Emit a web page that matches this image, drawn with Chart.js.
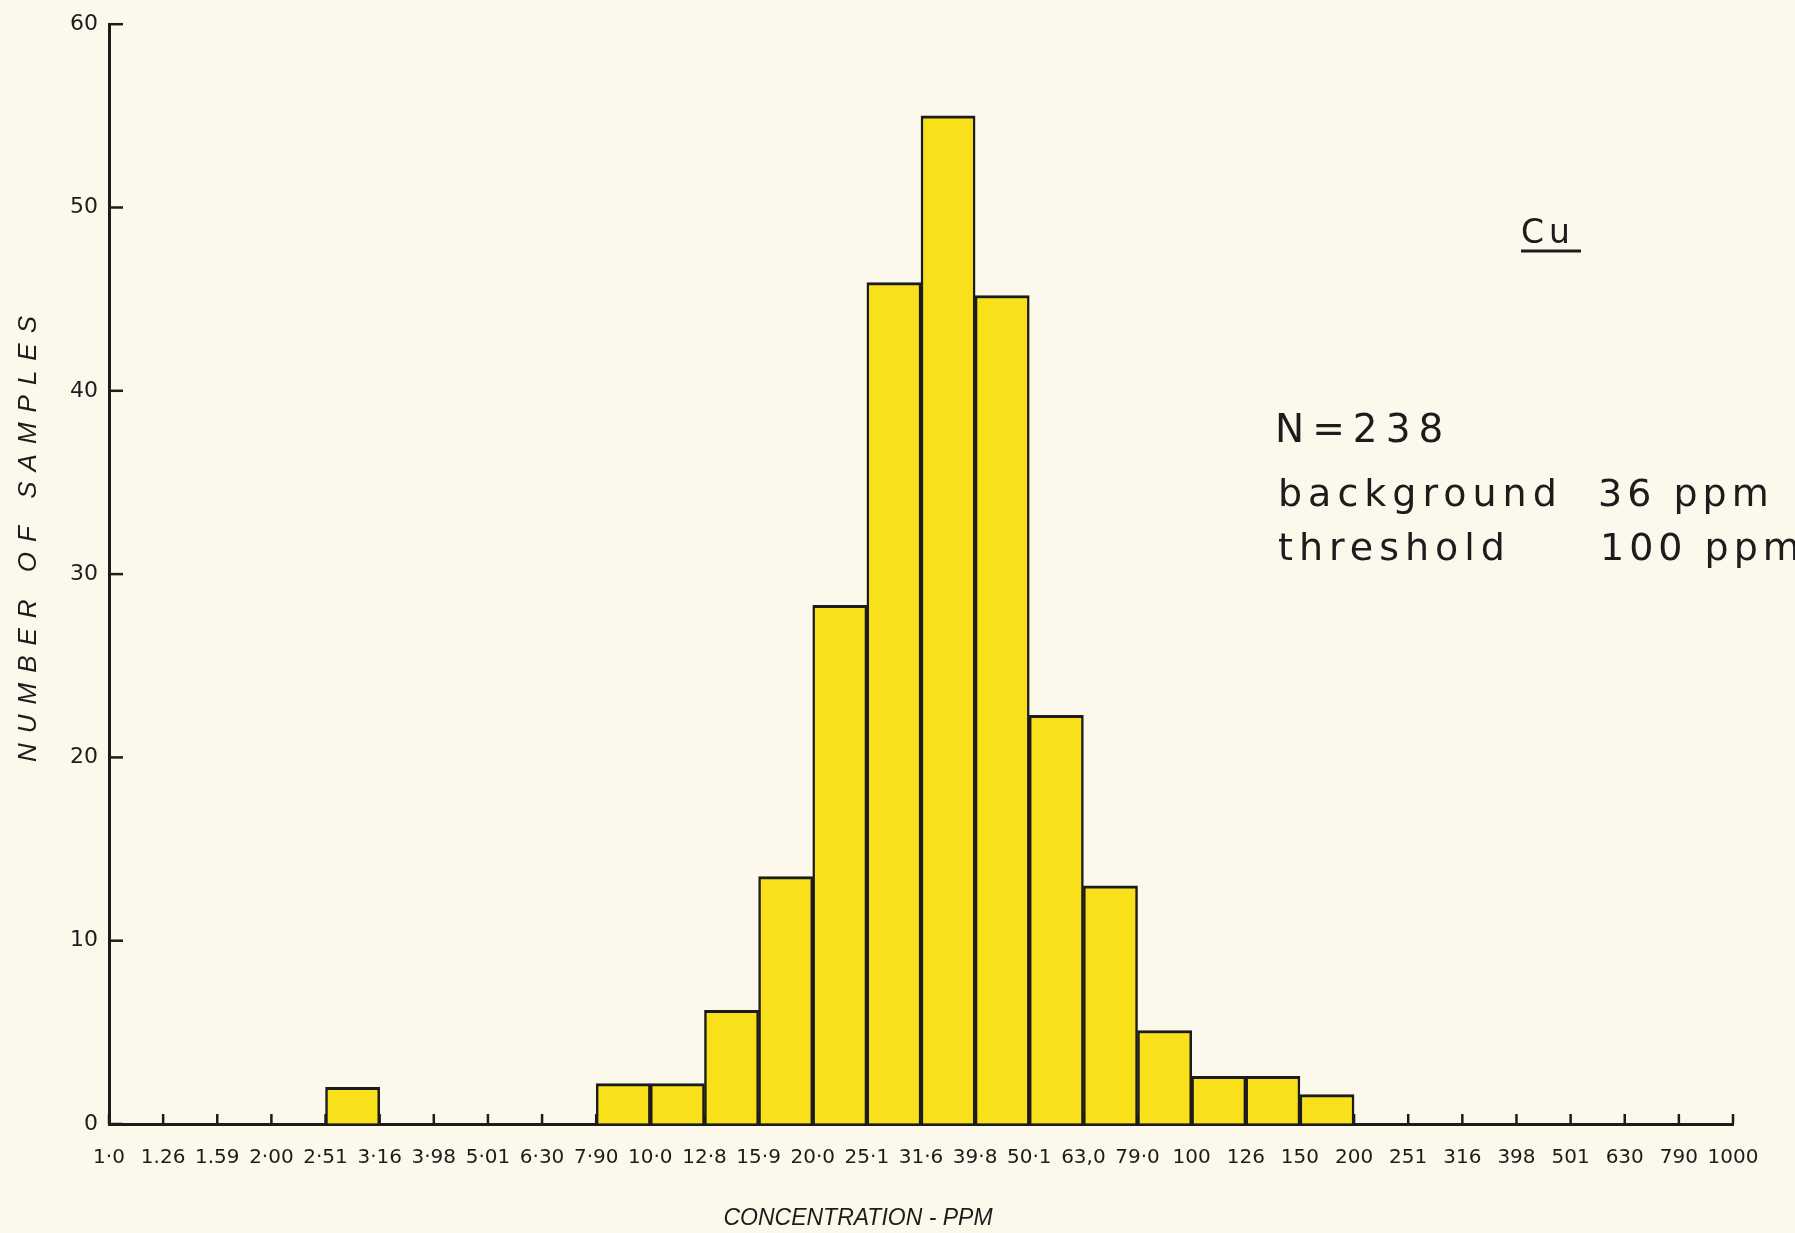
<!DOCTYPE html>
<html>
<head>
<meta charset="utf-8">
<title>Cu histogram</title>
<script src="https://cdn.jsdelivr.net/npm/chart.js@4.4.1/dist/chart.umd.min.js"></script>
<style>
    html, body { margin: 0; padding: 0; background: #fcf8ec; }
    #wrap { width: 1795px; height: 1233px; position: relative; }
</style>
</head>
<body>
<div id="wrap"><canvas id="cuChart"></canvas></div>
<script>
// Bin edges (ppm), as lettered under the axis
const binEdges = ['1·0', '1.26', '1.59', '2·00', '2·51', '3·16', '3·98', '5·01', '6·30', '7·90',
    '10·0', '12·8', '15·9', '20·0', '25·1', '31·6', '39·8', '50·1', '63,0', '79·0',
    '100', '126', '150', '200', '251', '316', '398', '501', '630', '790', '1000'];

// Number of samples in each bin (30 bins between the 31 edges)
const sampleCounts = [0, 0, 0, 0, 2, 0, 0, 0, 0, 2.2,
    2.2, 6.2, 13.5, 28.3, 45.9, 55, 45.2, 22.3, 13, 5.1,
    2.6, 2.6, 1.6, 0, 0, 0, 0, 0, 0, 0];

const yTicks = [0, 10, 20, 30, 40, 50, 60];

const ink = '#1c1c1c';
const barYellow = '#f8e11b';

// bars sit between edges i and i+1
const barPoints = sampleCounts
    .map((c, i) => ({ x: i + 0.5, y: c }))
    .filter(p => p.y > 0);

// --- extra marks: inward ticks, axis titles, notes ---
const paperMarks = {
    id: 'paperMarks',
    afterDraw(chart) {
        const ctx = chart.ctx;
        const xs = chart.scales.x;
        const ys = chart.scales.y;
        const base = ys.getPixelForValue(0);
        const left = chart.chartArea.left;

        ctx.save();
        ctx.strokeStyle = ink;
        ctx.lineWidth = 2.5;
        ctx.lineCap = 'butt';

        // x ticks point up into the plot
        binEdges.forEach((lbl, i) => {
            const px = xs.getPixelForValue(i);
            ctx.beginPath();
            ctx.moveTo(px, base);
            ctx.lineTo(px, base - 10);
            ctx.stroke();
        });

        // y ticks point right
        yTicks.forEach(v => {
            const py = ys.getPixelForValue(v);
            ctx.beginPath();
            ctx.moveTo(left, py);
            ctx.lineTo(left + 14, py);
            ctx.stroke();
        });

        ctx.fillStyle = ink;

        // axis titles
        ctx.font = 'italic 23px "Liberation Sans"';
        ctx.textAlign = 'center';
        ctx.textBaseline = 'middle';
        ctx.letterSpacing = '0px';
        ctx.fillText('CONCENTRATION - PPM', 858, 1219);

        ctx.save();
        ctx.translate(29, 539);
        ctx.rotate(-Math.PI / 2);
        ctx.font = 'italic 26px "Liberation Sans"';
        ctx.letterSpacing = '10px';
        ctx.fillText('NUMBER OF SAMPLES', 5, 0);
        ctx.restore();

        // element label
        ctx.textAlign = 'left';
        ctx.textBaseline = 'alphabetic';
        ctx.font = '33px "DejaVu Sans"';
        ctx.letterSpacing = '5px';
        ctx.fillText('Cu', 1521, 243);
        ctx.lineWidth = 3;
        ctx.beginPath();
        ctx.moveTo(1521, 251);
        ctx.lineTo(1581, 251);
        ctx.stroke();

        // statistics
        ctx.font = '39px "DejaVu Sans"';
        ctx.letterSpacing = '8px';
        ctx.fillText('N=238', 1275, 442);

        ctx.font = '38px "DejaVu Sans"';
        ctx.letterSpacing = '6px';
        ctx.fillText('background', 1278, 506);
        ctx.fillText('threshold', 1278, 560);
        ctx.letterSpacing = '5px';
        ctx.fillText('36 ppm', 1598, 506);
        ctx.fillText('100 ppm', 1600, 560);

        ctx.restore();
    }
};

const cuCtx = document.getElementById('cuChart').getContext('2d');
const cuChart = new Chart(cuCtx, {
    type: 'bar',
    data: {
        datasets: [
            {
                label: 'Cu',
                data: barPoints,
                backgroundColor: barYellow,
                borderColor: ink,
                borderWidth: { top: 3, left: 2.5, right: 2.5, bottom: 0 },
                borderSkipped: false,
                barPercentage: 1,
                categoryPercentage: 1
            }
        ]
    },
    options: {
        responsive: true,
        maintainAspectRatio: false,
        animation: { duration: 0 },
        layout: { padding: { top: 23, right: 62, left: 0, bottom: 0 } },
        plugins: {
            legend: { display: false },
            tooltip: { enabled: false }
        },
        scales: {
            x: {
                type: 'linear',
                min: 0,
                max: 30,
                offset: false,
                grid: { drawOnChartArea: false, drawTicks: false },
                border: { display: true, color: ink, width: 3 },
                ticks: {
                    stepSize: 1,
                    autoSkip: false,
                    maxRotation: 0,
                    padding: 22,
                    color: ink,
                    font: { family: 'DejaVu Sans', size: 20 },
                    callback: v => binEdges[v]
                },
                afterFit: scale => { scale.height = 109; }
            },
            y: {
                min: 0,
                max: 60,
                grid: { drawOnChartArea: false, drawTicks: false },
                border: { display: true, color: ink, width: 3 },
                ticks: {
                    stepSize: 10,
                    padding: 11,
                    color: ink,
                    font: { family: 'DejaVu Sans', size: 22 }
                },
                afterFit: scale => { scale.width = 109; }
            }
        }
    },
    plugins: [paperMarks]
});
</script>
</body>
</html>
